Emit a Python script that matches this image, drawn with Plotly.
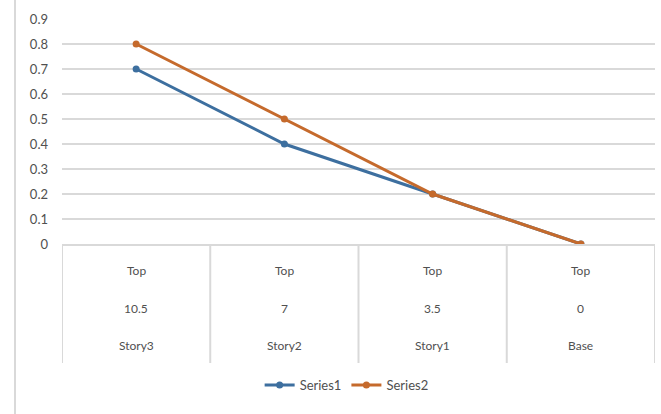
import plotly.graph_objects as go

# Category table rows (top to bottom) and series values
level_top = ["Top", "Top", "Top", "Top"]
level_elev = ["10.5", "7", "3.5", "0"]
level_story = ["Story3", "Story2", "Story1", "Base"]
series1 = [0.7, 0.4, 0.2, 0]
series2 = [0.8, 0.5, 0.2, 0]
y_ticks = [0, 0.1, 0.2, 0.3, 0.4, 0.5, 0.6, 0.7, 0.8, 0.9]

W, H = 661, 414
M_L, M_R, M_T, M_B = 62, 6, 19, 170
plot_h = H - M_T - M_B

BLUE = "#3D6F9F"
ORANGE = "#C56A2C"
GRID = "#D9D9D9"
TEXT = "#505050"
FONT = "Lato"

x = list(range(len(level_story)))

fig = go.Figure()
fig.add_trace(go.Scatter(
    x=x, y=series1, name="Series1", mode="lines+markers",
    line=dict(color=BLUE, width=3), marker=dict(size=7, color=BLUE),
))
fig.add_trace(go.Scatter(
    x=x, y=series2, name="Series2", mode="lines+markers",
    line=dict(color=ORANGE, width=3), marker=dict(size=7, color=ORANGE),
))

# Vertical dividers of the category table under the axis
table_depth = 119 / plot_h
shapes = []
for i in range(len(level_story) + 1):
    shapes.append(dict(
        type="line", xref="x", yref="paper",
        x0=i - 0.5, x1=i - 0.5, y0=0, y1=-table_depth,
        line=dict(color=GRID, width=2), layer="below",
    ))
# Left border of the chart area
bx = (15 - M_L) / (W - M_L - M_R)
shapes.append(dict(
    type="line", xref="paper", yref="paper",
    x0=bx, x1=bx, y0=-(M_B) / plot_h, y1=1 + M_T / plot_h,
    line=dict(color=GRID, width=2),
))

# Three rows of category labels
annotations = []
for row, shift in ((level_top, -26), (level_elev, -64), (level_story, -101)):
    for i, label in enumerate(row):
        annotations.append(dict(
            x=i, xref="x", y=0, yref="paper", yshift=shift,
            text=label, showarrow=False, yanchor="middle",
            font=dict(family=FONT, size=12, color=TEXT),
        ))

fig.update_layout(
    width=W, height=H,
    margin=dict(l=M_L, r=M_R, t=M_T, b=M_B),
    paper_bgcolor="white", plot_bgcolor="white",
    showlegend=True,
    legend=dict(
        orientation="h", x=0.48, xanchor="center",
        y=-(385 - M_T - plot_h) / plot_h, yanchor="middle",
        font=dict(family=FONT, size=13, color=TEXT),
        itemwidth=30,
    ),
    shapes=shapes,
    annotations=annotations,
    xaxis=dict(
        range=[-0.5, len(level_story) - 0.5],
        showgrid=False, zeroline=False, showticklabels=False,
        showline=True, linecolor=GRID, linewidth=2,
    ),
    yaxis=dict(
        range=[0, 0.9], tickvals=y_ticks,
        ticktext=[f"{v:g}" for v in y_ticks],
        showgrid=True, gridcolor=GRID, gridwidth=2,
        zeroline=False, showline=False, ticks="",
        ticklabelstandoff=13,
        tickfont=dict(family=FONT, size=13, color=TEXT),
    ),
)

fig.write_html("out.html")
